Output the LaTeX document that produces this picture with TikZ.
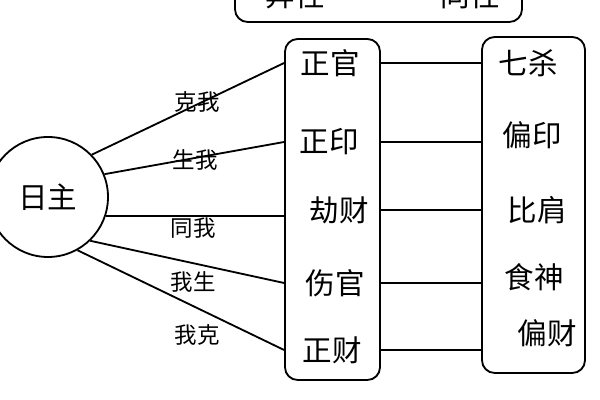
\documentclass[tikz,border=0pt]{standalone}
\usepackage{fontspec}
\setmainfont{Noto Sans CJK SC}

\begin{document}
\begin{tikzpicture}[
  box/.style={draw, line width=1.3pt, rounded corners=9pt},
  link/.style={line width=1.3pt},
  big/.style={font=\fontsize{21}{24}\selectfont},
  tag/.style={font=\fontsize{16}{18}\selectfont},
]
\useasboundingbox (0,0) rectangle (15,10);
% top box, cut by the page edge
\node[box, minimum width=7.175cm, minimum height=1.55cm] (tbox) at (9.4625, 10.225) {};
\node[big] (yx) at (7.375, 10.125) {异性};
\node[big] (tx) at (11.75, 10.125) {同性};
% the two columns
\node[box, minimum width=2.375cm, minimum height=8.525cm] (lbox) at (8.3125, 4.7625) {};
\node[box, minimum width=2.575cm, minimum height=8.4cm] (rbox) at (13.3375, 4.875) {};
\node[big] (zg) at (8.25, 8.425) {正官};
\node[big] (zy) at (8.225, 6.45) {正印};
\node[big] (jc) at (8.475, 4.75) {劫财};
\node[big] (sg) at (8.375, 2.925) {伤官};
\node[big] (zc) at (8.3, 1.25) {正财};
\node[big] (qs) at (13.2, 8.425) {七杀};
\node[big] (py) at (13.3, 6.625) {偏印};
\node[big] (bj) at (13.425, 4.75) {比肩};
\node[big] (ss) at (13.35, 3.075) {食神};
\node[big] (pc) at (13.675, 1.675) {偏财};
% day master
\node[draw, circle, line width=1.3pt, minimum size=3cm, inner sep=0pt, big] (rz) at (1.2, 5.075) {日主};
\draw[link] (rz.44) -- (lbox.west |- zg);
\draw[link] (rz.22) -- (lbox.west |- zy);
\draw[link] (rz.-18.5) -- (rz.-18.5 -| lbox.west);
\draw[link] (rz.-46) -- (lbox.west |- sg);
\draw[link] (rz.-61) -- (lbox.west |- zc);
\node[tag] (kw) at (4.925, 7.45) {克我};
\node[tag] (sw) at (4.875, 6.0) {生我};
\node[tag] (tw) at (4.825, 4.3) {同我};
\node[tag] (ws) at (4.825, 2.95) {我生};
\node[tag] (wk) at (4.925, 1.625) {我克};
% pairs
\draw[link] (lbox.east |- zg) -- (rbox.west |- zg);
\draw[link] (lbox.east |- zy) -- (rbox.west |- zy);
\draw[link] (lbox.east |- jc) -- (rbox.west |- jc);
\draw[link] (lbox.east |- sg) -- (rbox.west |- sg);
\draw[link] (lbox.east |- zc) -- (rbox.west |- zc);
\end{tikzpicture}
\end{document}
